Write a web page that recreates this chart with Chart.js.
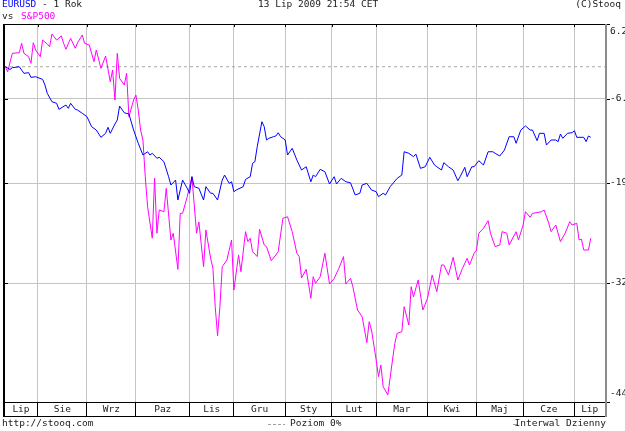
<!DOCTYPE html>
<html>
<head>
<meta charset="utf-8">
<script src="https://cdn.jsdelivr.net/npm/chart.js@4.4.1/dist/chart.umd.min.js"></script>
<style>
html, body { margin: 0; padding: 0; background: #fff; }
canvas { display: block; }
</style>
</head>
<body>
<canvas id="chart" width="625" height="431"></canvas>
<script>
const FONT = '9.5px "DejaVu Sans Mono", monospace';

// trading day index (0 = 14 Jul 2008) and % change from the first day
const eurDays = [
  0, 2, 3, 6, 7, 8, 10, 11, 13, 16,
  17, 18, 20, 22, 23, 26, 27, 28, 30, 31,
  33, 35, 37, 39, 41, 43, 44, 45, 47, 48,
  49, 51, 53, 55, 57, 59, 61, 62, 63, 65,
  66, 68, 70, 71, 73, 74, 76, 78, 79, 80,
  81, 83, 85, 86, 88, 89, 91, 93, 94, 96,
  97, 98, 99, 102, 103, 105, 106, 107, 108, 110,
  111, 112, 113, 115, 116, 117, 118, 120, 121, 123,
  125, 127, 129, 131, 132, 133, 135, 137, 139, 141,
  142, 144, 146, 148, 150, 152, 153, 155, 157, 159,
  160, 162, 163, 165, 168, 170, 171, 173, 175, 176,
  178, 180, 182, 184, 185, 187, 188, 190, 192, 194,
  195, 197, 198, 200, 201, 203, 205, 207, 209, 210,
  212, 214, 216, 218, 219, 221, 223, 225, 226, 228,
  229, 231, 232, 234, 236, 237, 238, 239, 241, 243,
  244, 245, 248, 249, 250, 251
];
const eurPct = [
  0, -0.45, -0.17, 0, -0.56, -1.11, -1.0, -1.78, -1.68, -2.12,
  -3.05, -4.41, -5.75, -6.0, -6.96, -6.27, -6.80, -6.0, -6.96, -7.07,
  -7.58, -8.10, -9.65, -10.16, -11.26, -10.66, -9.74, -10.66, -9.24, -8.62,
  -6.43, -7.49, -7.69, -10.16, -12.15, -13.88, -13.40, -13.88, -13.63, -14.35,
  -14.21, -14.85, -16.98, -18.14, -17.45, -20.19, -17.45, -18.60, -19.28, -16.98,
  -18.37, -18.60, -20.19, -18.37, -19.28, -19.28, -20.19, -17.45, -16.75, -17.91,
  -17.69, -19.06, -18.83, -18.37, -17.35, -16.98, -15.08, -14.85, -12.66, -8.88,
  -9.65, -11.66, -11.41, -11.16, -11.06, -10.57, -11.16, -11.66, -13.88, -12.90,
  -14.60, -16.04, -15.57, -17.69, -16.75, -16.98, -15.94, -16.28, -18.0, -16.98,
  -18.0, -17.21, -17.69, -17.83, -19.51, -19.28, -18.14, -17.91, -18.83, -19.06,
  -19.74, -19.28, -19.51, -18.37, -17.21, -16.75, -13.40, -13.63, -14.12, -13.73,
  -15.80, -15.57, -14.21, -15.32, -15.57, -16.04, -14.99, -15.57, -16.04, -17.55,
  -16.98, -15.65, -16.98, -15.57, -15.57, -14.70, -15.32, -13.40, -13.40, -13.63,
  -14.02, -13.15, -11.17, -11.17, -12.15, -10.16, -9.54, -10.16, -10.16, -11.76,
  -10.66, -10.66, -12.41, -11.66, -11.66, -11.91, -10.76, -11.41, -10.66, -10.56,
  -10.27, -11.26, -11.26, -11.91, -11.06, -11.26
];
const spxDays = [
  0, 1, 3, 6, 7, 8, 10, 11, 12, 13,
  15, 16, 18, 19, 20, 22, 24, 25, 26, 28,
  30, 31, 33, 34, 36, 38, 39, 41, 43, 45,
  46, 47, 48, 49, 51, 52, 53, 55, 56, 57,
  58, 59, 60, 61, 63, 64, 65, 66, 68, 69,
  71, 72, 74, 75, 76, 78, 80, 82, 83, 85,
  86, 88, 89, 90, 91, 92, 93, 95, 97, 98,
  100, 101, 103, 104, 105, 106, 108, 109, 111, 112,
  114, 116, 117, 119, 121, 123, 125, 126, 127, 129,
  131, 132, 133, 135, 137, 139, 141, 143, 145, 146,
  148, 149, 151, 153, 155, 156, 157, 159, 160, 161,
  162, 164, 166, 167, 168, 170, 171, 173, 174, 175,
  177, 179, 181, 183, 185, 187, 188, 190, 192, 194,
  196, 198, 199, 201, 202, 203, 205, 207, 208, 210,
  212, 213, 215, 216, 219, 220, 222, 223, 225, 226,
  228, 230, 231, 233, 234, 236, 238, 240, 242, 243,
  245, 246, 247, 248, 250, 251
];
const spxPct = [
  0, -0.86, 2.29, 2.40, 4.04, 2.29, 1.71, 0.58, 4.15, 2.87,
  1.71, 4.62, 3.91, 3.44, 5.69, 4.62, 5.34, 4.04, 2.99, 4.92,
  3.17, 4.15, 5.52, 4.04, 3.74, 0.85, 2.87, -0.27, 1.83, -2.51,
  -0.56, -5.48, 2.29, -1.95, -3.05, -1.11, -8.10, -5.48, -4.68, -7.07,
  -10.16, -11.66, -16.98, -21.09, -25.19, -17.17, -24.56, -21.53, -21.76, -18.60,
  -25.41, -24.56, -29.03, -21.97, -21.97, -19.74, -16.98, -24.56, -23.11, -28.71,
  -24.14, -27.65, -28.90, -33.38, -36.57, -33.38, -28.71, -27.90, -25.41, -31.47,
  -27.28, -29.31, -24.36, -25.62, -25.20, -26.87, -27.48, -24.05, -26.04, -26.25,
  -27.99, -27.28, -26.87, -22.63, -22.42, -24.36, -27.07, -27.48, -30.06, -29.03,
  -32.42, -29.91, -30.69, -29.91, -27.07, -30.77, -30.10, -28.91, -27.48, -30.77,
  -30.10, -31.08, -33.75, -34.51, -37.31, -35.05, -35.95, -39.12, -40.81, -39.63,
  -41.81, -42.62, -39.12, -37.38, -36.31, -36.14, -33.38, -35.41, -31.08, -32.24,
  -30.30, -33.75, -32.43, -29.71, -31.66, -28.50, -28.50, -29.71, -27.57, -30.30,
  -28.91, -27.69, -28.50, -27.07, -26.67, -24.56, -23.92, -22.94, -24.56, -26.25,
  -26.04, -24.36, -24.56, -26.04, -24.36, -25.41, -23.50, -21.75, -22.49, -21.97,
  -21.88, -21.75, -21.53, -23.28, -24.36, -23.50, -25.62, -24.56, -23.07, -23.50,
  -23.28, -25.41, -25.32, -26.67, -26.67, -25.19
];

const monthStartDays = [14, 35, 56, 79, 98, 120, 140, 159, 181, 202, 222, 244];
const monthLabels = ['Lip', 'Sie', 'Wrz', 'Paz', 'Lis', 'Gru', 'Sty', 'Lut', 'Mar', 'Kwi', 'Maj', 'Cze', 'Lip'];
const yTickPct = [7.5, -5.3, -17.9, -30.7, -43.3];
const yTickLabels = ['6.2', '-6.', '-19', '-32', '-44'];
const dayRange = [-0.56, 257.1];

const toPoints = (days, pct) => days.map((d, i) => ({ x: d, y: 100 + pct[i] }));

const stooqFrame = {
  id: 'stooqFrame',
  afterDraw: chart => {
    const { ctx, chartArea: a, scales: { x, y } } = chart;
    const bandBottom = a.bottom + 14;
    ctx.save();

    // frame
    ctx.fillStyle = '#000';
    ctx.fillRect(a.left, a.top, a.right - a.left, 1);
    ctx.fillRect(a.left - 1, a.top, 2, bandBottom - a.top + 1);
    ctx.fillRect(a.left, a.bottom, a.right - a.left, 1);
    ctx.fillRect(a.left, bandBottom, a.right - a.left, 1);
    ctx.fillStyle = '#8c8c8c';
    ctx.fillRect(a.right, a.top, 2, bandBottom - a.top + 1);

    // small ticks
    ctx.fillStyle = '#000';
    monthStartDays.forEach(d => {
      ctx.fillRect(Math.round(x.getPixelForValue(d)), a.top, 1, 3);
    });
    ctx.font = FONT;
    ctx.textBaseline = 'middle';
    ctx.textAlign = 'left';
    yTickPct.forEach((v, i) => {
      const py = Math.round(y.getPixelForValue(100 + v));
      ctx.fillStyle = '#000';
      ctx.fillRect(a.left, py, 4, 1);
      ctx.fillRect(a.right + 2, py, 3, 1);
      ctx.fillStyle = '#202020';
      const ty = Math.min(Math.max(py, a.top + 8), a.bottom - 8);
      ctx.fillText(yTickLabels[i], a.right + 5, ty);
    });

    // month band labels
    ctx.textAlign = 'center';
    ctx.fillStyle = '#202020';
    monthLabels.forEach((m, i) => {
      const l = i === 0 ? a.left : x.getPixelForValue(monthStartDays[i - 1]);
      const r = i === monthLabels.length - 1 ? a.right : x.getPixelForValue(monthStartDays[i]);
      ctx.fillText(m, (l + r) / 2, a.bottom + 8);
    });

    // header
    ctx.textAlign = 'left';
    const seg = (txt, px, py, col) => {
      ctx.fillStyle = col;
      ctx.fillText(txt, px, py);
      return px + ctx.measureText(txt).width;
    };
    let cx = seg('EURUSD', 2, 5, '#0000ff');
    seg(' - 1 Rok', cx, 5, '#202020');
    seg('13 Lip 2009 21:54 CET', 258, 5, '#202020');
    ctx.textAlign = 'right';
    seg('(C)Stooq', 621, 5, '#202020');
    ctx.textAlign = 'left';
    seg('vs', 2, 17, '#202020');
    seg('S&P500', 21, 17, '#ff00ff');

    // footer
    seg('http://stooq.com', 2, 424, '#202020');
    ctx.strokeStyle = '#a0a0a0';
    ctx.lineWidth = 1;
    ctx.setLineDash([3, 2]);
    ctx.beginPath();
    ctx.moveTo(268, 424.5);
    ctx.lineTo(285, 424.5);
    ctx.stroke();
    ctx.setLineDash([]);
    seg('Poziom 0%', 290, 424, '#202020');
    ctx.beginPath();
    ctx.moveTo(513, 424.5);
    ctx.lineTo(517, 424.5);
    ctx.stroke();
    ctx.textAlign = 'right';
    seg('Interwal Dzienny', 606, 424, '#202020');
    ctx.restore();
  }
};

new Chart(document.getElementById('chart'), {
  type: 'line',
  data: {
    datasets: [
      {
        label: 'EURUSD',
        data: toPoints(eurDays, eurPct),
        borderColor: '#0000ff',
        borderWidth: 1,
        pointRadius: 0,
        tension: 0
      },
      {
        label: 'S&P500',
        data: toPoints(spxDays, spxPct),
        borderColor: '#ff00ff',
        borderWidth: 1,
        pointRadius: 0,
        tension: 0
      },
      {
        label: 'Poziom 0%',
        data: [{ x: dayRange[0], y: 100 }, { x: dayRange[1], y: 100 }],
        borderColor: '#a8a8a8',
        borderDash: [3, 3],
        borderWidth: 1,
        pointRadius: 0
      }
    ]
  },
  options: {
    responsive: false,
    animation: false,
    devicePixelRatio: 1,
    layout: { padding: { left: 4, top: 24, right: 0, bottom: 0 } },
    plugins: { legend: { display: false }, tooltip: { enabled: false } },
    scales: {
      x: {
        type: 'linear',
        min: dayRange[0],
        max: dayRange[1],
        afterBuildTicks: s => { s.ticks = monthStartDays.map(v => ({ value: v })); },
        afterFit: s => { s.height = 29; },
        ticks: { display: false },
        grid: { color: '#c4c4c4', tickColor: '#000', tickLength: 14, drawTicks: true },
        border: { display: false }
      },
      y: {
        type: 'logarithmic',
        position: 'right',
        min: 100 + yTickPct[yTickPct.length - 1],
        max: 100 + yTickPct[0],
        afterBuildTicks: s => { s.ticks = yTickPct.map(v => ({ value: 100 + v })); },
        afterFit: s => { s.width = 20; },
        ticks: { display: false },
        grid: { color: '#c4c4c4', drawTicks: false },
        border: { display: false }
      }
    }
  },
  plugins: [stooqFrame]
});
</script>
</body>
</html>
